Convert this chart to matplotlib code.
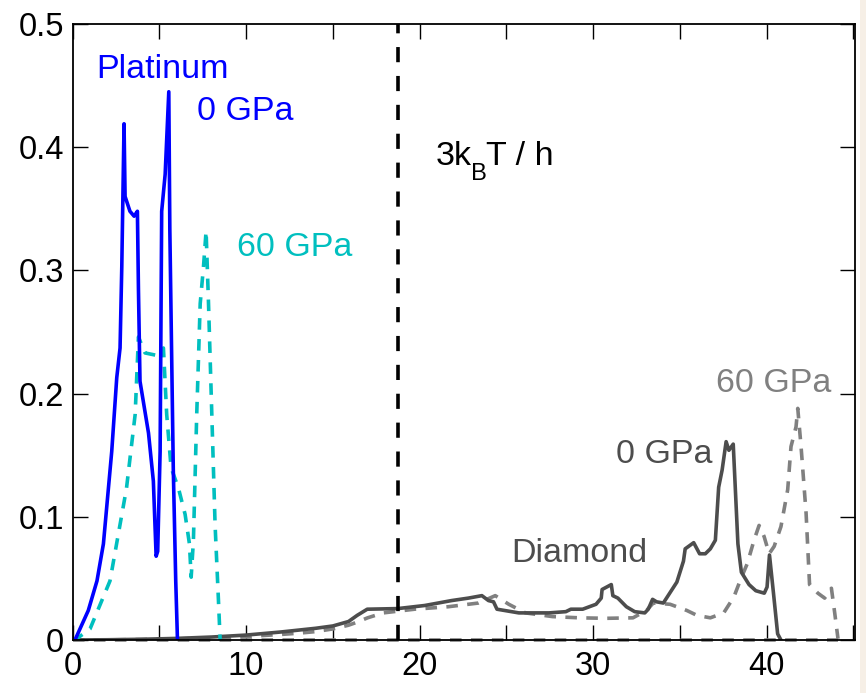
import matplotlib
matplotlib.use("Agg")
import matplotlib.pyplot as plt
from matplotlib.ticker import FixedLocator, FuncFormatter
from matplotlib.patches import Rectangle
from matplotlib.transforms import offset_copy

plt.rcParams['font.family'] = ['Liberation Sans', 'DejaVu Sans']

# Phonon density of states, frequency in THz
pt0_x = [0.0, 0.13, 0.9, 1.4, 1.77, 2.25, 2.54, 2.73, 2.83, 2.96, 3.02, 3.3, 3.54, 3.73,
         3.79, 3.88, 4.37, 4.65, 4.81, 4.9, 5.04, 5.13, 5.33, 5.54, 5.6, 5.8, 5.94, 6.04]
pt0_y = [0.0, 0.0, 0.024, 0.048, 0.078, 0.153, 0.213, 0.237, 0.303, 0.419, 0.36, 0.348, 0.344, 0.348,
         0.285, 0.21, 0.168, 0.129, 0.068, 0.072, 0.153, 0.348, 0.378, 0.445, 0.333, 0.138, 0.048, 0.0]

pt60_x = [0.0, 0.13, 1.0, 2.15, 3.1, 3.6, 3.79, 4.17, 4.85, 5.23, 5.42, 5.67, 6.1, 6.48,
          6.73, 6.83, 6.96, 7.15, 7.35, 7.54, 7.69, 7.83, 8.02, 8.21, 8.4, 8.5]
pt60_y = [0.0, 0.0, 0.009, 0.048, 0.123, 0.183, 0.246, 0.233, 0.231, 0.237, 0.183, 0.14, 0.123, 0.102,
          0.078, 0.051, 0.081, 0.183, 0.273, 0.303, 0.332, 0.273, 0.183, 0.093, 0.033, 0.0]

dia0_x = [0.0, 2.0, 4.0, 6.0, 8.0, 10.0, 12.0, 13.0, 14.0, 15.0, 15.9, 16.4, 16.98, 18.74,
          20.29, 21.84, 22.81, 23.59, 23.97, 24.26, 24.46, 25.72, 27.46, 28.43, 28.72, 29.4,
          30.17, 30.47, 30.52, 31.05, 31.14, 31.43, 31.92, 32.4, 32.98, 33.18, 33.43, 33.66,
          34.05, 34.83, 35.21, 35.31, 35.8, 36.14, 36.47, 36.76, 37.05, 37.24, 37.44, 37.67,
          37.83, 38.08, 38.35, 38.55, 38.99, 39.38, 39.87, 40.03, 40.17, 40.4, 40.64, 40.83]
dia0_y = [0.0, 0.0002, 0.0006, 0.0013, 0.0024, 0.004, 0.0065, 0.008, 0.0095, 0.0114, 0.015, 0.02, 0.025, 0.0255,
          0.028, 0.032, 0.034, 0.036, 0.032, 0.031, 0.025, 0.022, 0.022, 0.023, 0.025, 0.025,
          0.029, 0.034, 0.041, 0.045, 0.036, 0.034, 0.027, 0.023, 0.022, 0.025, 0.033, 0.031,
          0.03, 0.047, 0.064, 0.074, 0.079, 0.07, 0.07, 0.074, 0.081, 0.124, 0.138, 0.161,
          0.154, 0.159, 0.078, 0.055, 0.045, 0.04, 0.038, 0.043, 0.069, 0.038, 0.005, 0.0]

dia60_x = [0.0, 2.0, 4.0, 6.0, 8.0, 10.0, 12.0, 13.0, 14.0, 15.0, 15.9, 16.4, 17.0, 17.9,
           19.71, 21.65, 23.39, 24.36, 25.14, 26.1, 27.66, 29.2, 30.76, 32.3, 33.08, 33.47,
           34.44, 35.4, 35.99, 36.76, 37.53, 38.12, 38.5, 38.89, 39.28, 39.57, 39.86, 40.15,
           40.44, 40.83, 41.22, 41.41, 41.7, 41.8, 41.99, 42.28, 42.48, 42.96, 43.35, 43.74,
           43.93, 44.12]
dia60_y = [0.0, 0.0001, 0.0004, 0.0009, 0.0017, 0.0028, 0.0045, 0.0055, 0.0068, 0.009, 0.012, 0.0145, 0.018, 0.022,
           0.025, 0.027, 0.03, 0.036, 0.029, 0.022, 0.019, 0.018, 0.0176, 0.018, 0.024, 0.03,
           0.029, 0.024, 0.02, 0.018, 0.022, 0.035, 0.049, 0.062, 0.081, 0.093, 0.084, 0.07,
           0.076, 0.092, 0.122, 0.157, 0.173, 0.188, 0.157, 0.103, 0.045, 0.038, 0.034, 0.042,
           0.022, 0.001]

thermal_freq = 18.75  # 3 k_B T / h at 300 K, THz

x_ticks = [0, 5, 10, 15, 20, 25, 30, 35, 40, 45]
y_ticks = [0, 0.1, 0.2, 0.3, 0.4, 0.5]
y_tick_labels = ['0', '0.1', '0.2', '0.3', '0.4', '0.5']

BLUE = '#0000ff'
CYAN = '#00bfbf'
DARK = '#4d4d4d'
GRAY = '#808080'

fig = plt.figure(figsize=(8.66, 6.93), dpi=100)
fig.patches.append(Rectangle((860 / 866, 0), 6 / 866, 1, transform=fig.transFigure,
                             facecolor='#f6efe6', edgecolor='none', zorder=-1))
ax = fig.add_axes([72.7 / 866, (693 - 640) / 693, (855 - 72.7) / 866, (640 - 24) / 693])

lw = 2.6
dash = (0, (3.2, 2.6))
ax.plot([0, dia60_x[-1]], [0, 0], color=GRAY, lw=lw, ls=dash, clip_on=False)
ax.plot(dia60_x, dia60_y, color=GRAY, lw=lw, ls=dash)
ax.plot(dia0_x, dia0_y, color=DARK, lw=lw)
ax.plot(pt60_x, pt60_y, color=CYAN, lw=lw, ls=dash)
ax.plot(pt0_x, pt0_y, color=BLUE, lw=lw)
ax.axvline(thermal_freq, color='black', lw=2.6, ls=(0, (4.2, 3.8)))

ax.set_xlim(0, 45.1)
ax.set_ylim(0, 0.5)
ax.xaxis.set_major_locator(FixedLocator(x_ticks))
ax.xaxis.set_major_formatter(FuncFormatter(lambda v, p: f'{v:.0f}' if round(v) % 10 == 0 else ''))
ax.set_yticks(y_ticks)
ax.set_yticklabels(y_tick_labels)
ax.tick_params(direction='in', length=11, width=1, top=True, right=True,
               labelsize=23.5, colors='black')
ax.tick_params(axis='x', pad=8)
ax.tick_params(axis='y', pad=6)
for s in ax.spines.values():
    s.set_linewidth(1.3)

fs = 24.5
ax.text(1.34, 0.456, 'Platinum', color=BLUE, fontsize=fs, va='baseline')
ax.text(7.17, 0.422, '0 GPa', color=BLUE, fontsize=fs, va='baseline')
ax.text(9.5, 0.3117, '60 GPa', color=CYAN, fontsize=fs, va='baseline')
ax.text(37.1, 0.2013, '60 GPa', color=GRAY, fontsize=fs, va='baseline')
ax.text(31.3, 0.1437, '0 GPa', color=DARK, fontsize=fs, va='baseline')
ax.text(25.3, 0.0633, 'Diamond', color=DARK, fontsize=fs, va='baseline')

# 3 k_B T / h label, with a lowered subscript built from separate pieces
renderer = fig.canvas.get_renderer()
t1 = ax.text(20.9, 0.3856, '3k', color='black', fontsize=fs, va='baseline')
w1 = t1.get_window_extent(renderer).width * 72 / fig.dpi
t2 = ax.text(20.9, 0.3856, 'B', color='black', fontsize=fs * 0.7, va='baseline',
             transform=offset_copy(ax.transData, fig=fig, x=w1 - 0.5, y=-11, units='points'))
w2 = t2.get_window_extent(renderer).width * 72 / fig.dpi
ax.text(20.9, 0.3856, 'T / h', color='black', fontsize=fs, va='baseline',
        transform=offset_copy(ax.transData, fig=fig, x=w1 + w2 - 0.5, y=0, units='points'))

fig.savefig('out.png', dpi=100)
